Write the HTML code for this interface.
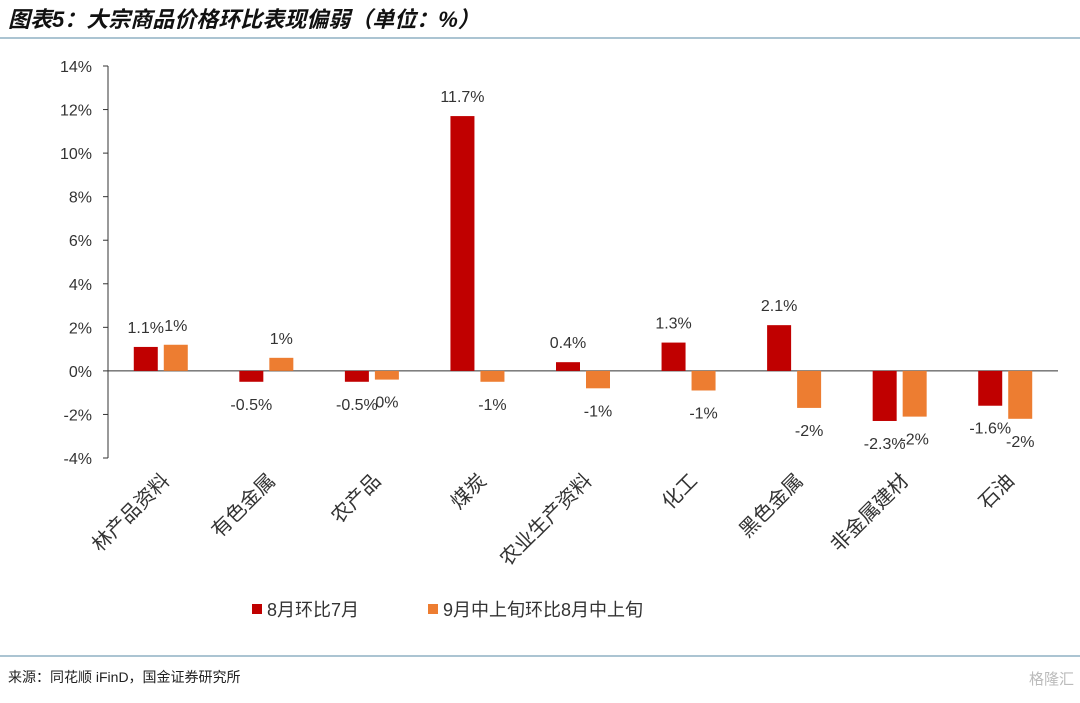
<!DOCTYPE html>
<html><head><meta charset="utf-8"><style>
body{margin:0;background:#fff;}
svg text{font-family:"Liberation Sans","Noto Sans CJK SC",sans-serif;}
</style></head><body>
<svg width="1080" height="698" xmlns="http://www.w3.org/2000/svg">
<text x="8" y="27" font-size="22" font-weight="bold" font-style="italic" fill="#111">图表5：大宗商品价格环比表现偏弱（单位：%）</text>
<line x1="0" y1="38" x2="1080" y2="38" stroke="#8fb0c4" stroke-width="1.5"/>
<line x1="0" y1="656" x2="1080" y2="656" stroke="#8fb0c4" stroke-width="1.5"/>
<text x="8" y="682" font-size="14" fill="#222">来源：同花顺 iFinD，国金证券研究所</text>
<text x="1074" y="684" font-size="15" fill="#bbb" text-anchor="end">格隆汇</text>
<g id="plot"></g>
</svg>
<script>
const categories=["林产品资料","有色金属","农产品","煤炭","农业生产资料","化工","黑色金属","非金属建材","石油"];
const series1=[1.1,-0.5,-0.5,11.7,0.4,1.3,2.1,-2.3,-1.6];
const series2=[1.2,0.6,-0.4,-0.5,-0.8,-0.9,-1.7,-2.1,-2.2];
const labels1=["1.1%","-0.5%","-0.5%","11.7%","0.4%","1.3%","2.1%","-2.3%","-1.6%"];
const labels2=["1%","1%","0%","-1%","-1%","-1%","-2%","-2%","-2%"];
const ticks=[14,12,10,8,6,4,2,0,-2,-4];
const names=["8月环比7月","9月中上旬环比8月中上旬"];
const colors=["#c00000","#ed7d31"];
const NS="http://www.w3.org/2000/svg";
const g=document.getElementById('plot');
const x0=108,x1=1058,yTop=66,yBot=458,vMax=14,vMin=-4;
const y=v=>yTop+(vMax-v)*(yBot-yTop)/(vMax-vMin);
const band=(x1-x0)/categories.length;
const cx=i=>x0+band*(i+0.5);
function mk(t,a,txt){const e=document.createElementNS(NS,t);for(const k in a)e.setAttribute(k,a[k]);if(txt!==undefined)e.textContent=txt;g.appendChild(e);return e;}
let ax=mk('line',{x1:x0,y1:yTop,x2:x0,y2:yBot,stroke:'#333'});


ticks.forEach(t=>{
 const l=mk('line',{x1:x0-5,y1:y(t),x2:x0,y2:y(t),stroke:'#333'});
 
 
 const tx=mk('text',{x:x0-16,y:y(t)+6,'font-size':16,'text-anchor':'end',fill:'#333'},t+'%');
 
 
});
const zl=mk('line',{x1:x0,y1:y(0),x2:x1,y2:y(0),stroke:'#333'});


const bw=24,gap=6;
[series1,series2].forEach((s,si)=>{
 const lab=si?labels2:labels1;
 s.forEach((v,i)=>{
  const bx=si?cx(i)+gap/2:cx(i)-gap/2-bw;
  const r=mk('rect',{x:bx,y:Math.min(y(v),y(0)),width:bw,height:Math.abs(y(v)-y(0)),fill:colors[si]});
  
  
  const ly=v>=0?y(v)-14:y(v)+28;
  const t=mk('text',{x:bx+bw/2,y:ly,'font-size':16,'text-anchor':'middle',fill:'#333'},lab[i]);
  
  
 });
});
categories.forEach((c,i)=>{
 const t=mk('text',{x:0,y:0,'font-size':20,'text-anchor':'end',fill:'#333',transform:`translate(${cx(i)+10},${y(-4)+24}) rotate(-45)`},c);
 
 
});
const lx=[252,428];
names.forEach((n,i)=>{
 const r=mk('rect',{x:lx[i],y:604,width:10,height:10,fill:colors[i]});
 
 
 const t=mk('text',{x:lx[i]+15,y:616,'font-size':18,fill:'#333'},n);
 
 
});
</script>
</body></html>
